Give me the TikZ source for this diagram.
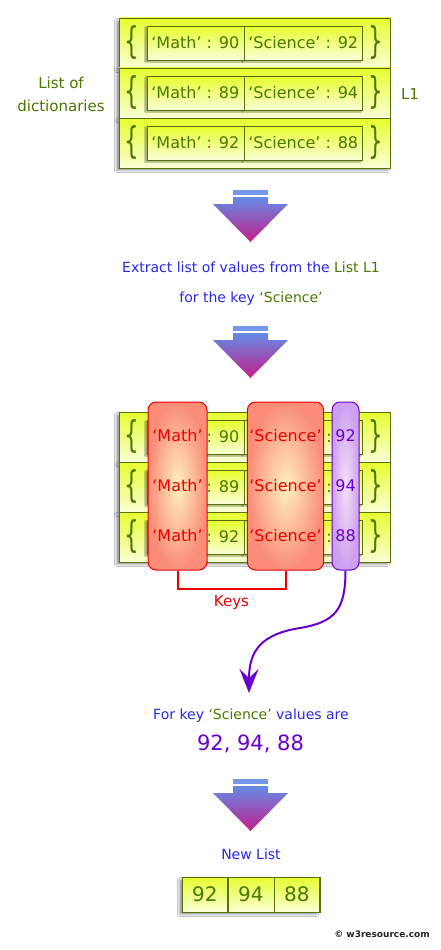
\documentclass[tikz,border=0pt]{standalone}
\usepackage{fontspec}
\usepackage{graphicx}
\setmainfont{DejaVu Sans}
\usetikzlibrary{positioning, arrows.meta, shadows.blur}
\definecolor{lgreen}{RGB}{75,120,0}
\definecolor{lborder}{RGB}{85,115,10}
\definecolor{ltop}{RGB}{230,255,45}
\definecolor{lbot}{RGB}{250,255,215}
\definecolor{tblue}{RGB}{40,40,230}
\definecolor{kred}{RGB}{235,0,0}
\definecolor{kin}{RGB}{255,240,190}
\definecolor{kout}{RGB}{250,140,120}
\definecolor{vpurple}{RGB}{105,0,205}
\definecolor{vin}{RGB}{245,225,245}
\definecolor{vout}{RGB}{205,160,240}
\definecolor{arrtop}{RGB}{100,140,230}
\definecolor{arrbot}{RGB}{195,30,140}

\begin{document}
\begin{tikzpicture}[x=1pt, y=-1pt, >=stealth,
    rowbox/.style={draw=lborder, top color=ltop, bottom color=lbot, minimum width=271pt,
        minimum height=50pt, inner sep=0pt,
        blur shadow={shadow xshift=-2.5pt, shadow yshift=-2.5pt, shadow blur radius=2pt}},
    kvbox/.style={draw=lborder, top color=ltop, bottom color=lbot, minimum height=34pt,
        inner sep=0pt, text=lgreen, font=\fontsize{16}{19}\selectfont,
        blur shadow={shadow xshift=-1.5pt, shadow yshift=-1.5pt, shadow blur radius=1pt}},
    cell/.style={draw=lborder, minimum width=45.67pt, minimum height=35pt, inner sep=0pt,
        text=lgreen, font=\fontsize{20}{24}\selectfont},
    brace/.style={text=lgreen, inner sep=0pt, font=\fontsize{23}{23}\selectfont},
    keybox/.style={draw=kred, line width=1pt, rounded corners=8pt, inner color=kin, outer color=kout,
        text=kred, minimum height=168pt, inner sep=2pt, align=center,
        font=\fontsize{16}{50}\selectfont},
    valbox/.style={draw=vpurple, line width=1pt, rounded corners=8pt, inner color=vin, outer color=vout,
        text=vpurple, minimum height=168pt, inner sep=2pt, align=center,
        font=\fontsize{16}{50}\selectfont},
    note/.style={text=tblue, align=center, font=\fontsize{14}{30}\selectfont},
    keyline/.style={draw=kred, color=kred, line width=2pt},
    valline/.style={draw=vpurple, line width=2pt, -{Stealth[length=24pt, width=19pt, inset=9pt]}},
    bigarrow/.style={top color=arrtop, bottom color=arrbot}]
    \useasboundingbox[fill=white] (0,0) rectangle (440,950);

    \node[text=lgreen, align=center, font=\fontsize{15}{23}\selectfont] (ld) at (61,94) {List of\\dictionaries};
    \node[text=lgreen, font=\fontsize{15}{18}\selectfont] (l1) at (410,94) {L1};
    \foreach \i/\y/\mv/\sv in {1/43/90/92, 2/93/89/94, 3/143/92/88} {
        \node[rowbox] (r\i) at (254.5,\y) {};
        \node[brace] (lb\i) at (132,\y) {\scalebox{1}[1.6]{\{}};
        \node[brace] (rb\i) at (376,\y) {\scalebox{1}[1.6]{\}}};
        \node[kvbox, minimum width=118pt, anchor=west] (s\i) at (244,\y) {‘Science’ : \sv};
        \node[kvbox, minimum width=97pt, left=0pt of s\i] (m\i) {‘Math’ : \mv};
    }

    \foreach \y in {190,326,779} {
        \fill[arrtop!90!white] (233,\y) rectangle (268,\y+5);
        \shade[bigarrow] (233,\y+7) -- (268,\y+7) -- (268,\y+14) -- (288,\y+14)
            -- (250.5,\y+52) -- (213,\y+14) -- (233,\y+14) -- cycle;
    }

    \node[note] (ex) at (251,284) {Extract list of values from the \textcolor{lgreen}{List L1}\\
        for the key \textcolor{lgreen}{‘Science’}};

    \foreach \i/\y/\mv in {4/437/90, 5/487/89, 6/537/92} {
        \node[rowbox] (r\i) at (254.5,\y) {};
        \node[brace] (lb\i) at (132,\y) {\scalebox{1}[1.6]{\{}};
        \node[brace] (rb\i) at (376,\y) {\scalebox{1}[1.6]{\}}};
        \node[kvbox, minimum width=118pt, anchor=west] (s\i) at (244,\y) {\phantom{‘Science’} :\phantom{ 00}};
        \node[kvbox, minimum width=97pt, left=0pt of s\i] (m\i) {\phantom{‘Math’} : \mv};
    }
    \node[keybox, minimum width=59pt] (mk) at (177.5,486) {‘Math’\\‘Math’\\‘Math’};
    \node[keybox, minimum width=75pt] (sk) at (285.5,486) {‘Science’\\‘Science’\\‘Science’};
    \node[valbox, minimum width=27pt] (vk) at (345.5,486) {92\\94\\88};

    \coordinate (kb) at (231.5,589);
    \draw[keyline] (mk.south) |- (kb) -| (sk.south);
    \node[text=kred, font=\fontsize{15}{18}\selectfont, below=3pt of kb] (keys) {Keys};

    \coordinate (tip) at (249,693);
    \draw[valline] (vk.south) .. controls (345.5,610) and (335,622) .. (300,628)
        .. controls (262,634) and (249,650) .. (tip);

    \node[note] (fk) at (251,716) {For key \textcolor{lgreen}{‘Science’} values are};
    \node[text=vpurple, font=\fontsize{21}{25}\selectfont] (vals) at (250.5,744) {92, 94, 88};

    \node[note] (nw) at (251,854) {New List};
    \node[rowbox, minimum width=137pt, minimum height=35pt] (nl) at (250.5,894.5) {};
    \node[cell] (n1) at (204.8,894.5) {92};
    \node[cell, right=0pt of n1] (n2) {94};
    \node[cell, right=0pt of n2] (n3) {88};

    \node[font=\bfseries\fontsize{9}{11}\selectfont, text=black!85] (wm) at (382,934) {© w3resource.com};
\end{tikzpicture}
\end{document}
